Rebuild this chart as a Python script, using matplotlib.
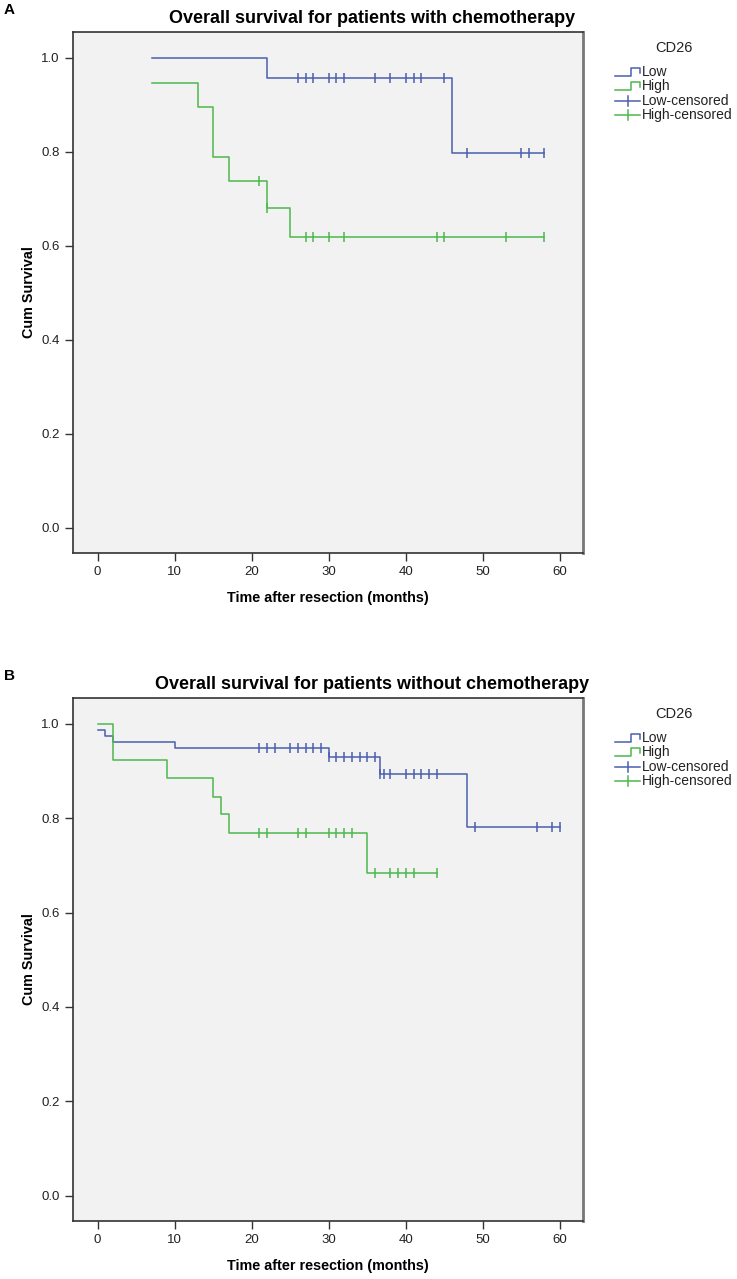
import numpy as np
import matplotlib
matplotlib.use("Agg")
import matplotlib.pyplot as plt
from matplotlib.lines import Line2D

plt.rcParams['font.family'] = ['Liberation Sans', 'DejaVu Sans']

# ---------------- data ----------------
# Panel A: with chemotherapy
a_low_t = [7, 22, 46, 58]
a_low_s = [1.0, 0.957, 0.797, 0.797]
a_low_c = [26, 27, 28, 30, 31, 32, 36, 38, 40, 41, 42, 45, 48, 55, 56, 58]

a_high_t = [7, 13, 15, 17, 22, 25, 58]
a_high_s = [0.947, 0.895, 0.789, 0.737, 0.681, 0.619, 0.619]
a_high_c = [21, 22, 27, 28, 30, 32, 44, 45, 53, 58]

# Panel B: without chemotherapy
b_low_t = [0, 1, 2, 10, 30, 36.7, 48, 60]
b_low_s = [0.987, 0.974, 0.961, 0.948, 0.930, 0.893, 0.781, 0.781]
b_low_c = [21, 22, 23, 25, 26, 27, 28, 29, 30, 31, 32, 33, 34, 35, 36,
           36.7, 37.2, 38, 40, 41, 42, 43, 44, 49, 57, 59, 60]

b_high_t = [0, 2, 9, 15, 16, 17, 35, 44]
b_high_s = [1.0, 0.923, 0.885, 0.846, 0.808, 0.769, 0.684, 0.684]
b_high_c = [21, 22, 26, 27, 30, 31, 32, 33, 36, 38, 39, 40, 41, 44]

titles = ["Overall survival for patients with chemotherapy",
          "Overall survival for patients without chemotherapy"]
panel_letters = ["A", "B"]
legend_title = "CD26"
legend_labels = ["Low", "High", "Low-censored", "High-censored"]
x_ticks = [0, 10, 20, 30, 40, 50, 60]
y_ticks = [0.0, 0.2, 0.4, 0.6, 0.8, 1.0]
xlabel = "Time after resection (months)"
ylabel = "Cum Survival"

BLUE = '#4a5fae'
GREEN = '#4db84d'

W, H = 737, 1279
fig = plt.figure(figsize=(W / 100, H / 100), dpi=100)


def px(x, y):
    return x / W, 1 - y / H


def surv_at(t, times, surv):
    i = np.searchsorted(times, t, side='right') - 1
    i = np.clip(i, 0, len(surv) - 1)
    return np.asarray(surv)[i]


panels = [
    (a_low_t, a_low_s, a_low_c, a_high_t, a_high_s, a_high_c, 32, 553),
    (b_low_t, b_low_s, b_low_c, b_high_t, b_high_s, b_high_c, 698, 1221),
]

for k, (lt, ls, lc, ht, hs, hc, top, bot) in enumerate(panels):
    left, right = 73, 583
    ax = fig.add_axes([left / W, 1 - bot / H, (right - left) / W, (bot - top) / H])
    ax.set_facecolor('#f2f2f2')
    for t, s, c, col in [(lt, ls, lc, BLUE), (ht, hs, hc, GREEN)]:
        ax.step(t, s, where='post', color=col, lw=1.1)
        ax.plot(c, surv_at(np.array(c), np.array(t), s), ls='none', marker='|',
                ms=7, mew=1.1, color=col)
    ax.set_xlim(-3.2, 63.0)
    ax.set_ylim(-0.054, 1.055)
    ax.set_xticks(x_ticks)
    ax.set_yticks(y_ticks)
    ax.set_yticklabels([f"{v:.1f}" for v in y_ticks])
    ax.tick_params(direction='out', length=6, width=1, colors='#333333',
                   labelsize=9.5, labelcolor='#222222')
    for sp in ax.spines.values():
        sp.set_color('#333333')
        sp.set_linewidth(1.2)
    ax.spines['right'].set_color('#777777')
    ax.spines['right'].set_linewidth(2)
    ax.set_xlabel(xlabel, fontsize=10.4, fontweight='bold', labelpad=9)
    ax.set_ylabel(ylabel, fontsize=10.4, fontweight='bold', labelpad=4)

    # title centered on figure
    fig.text(*px(372, top - 5), titles[k], ha='center', va='bottom',
             fontsize=13, fontweight='bold')
    fig.text(*px(4, top - 22), panel_letters[k], ha='left', va='center',
             fontsize=11, fontweight='bold')

    # legend
    ly0 = top + 16
    fig.text(*px(674, ly0), legend_title, ha='center', va='center', fontsize=10.5,
             color='#222222')
    for j, (lab, col) in enumerate(zip(legend_labels, [BLUE, GREEN, BLUE, GREEN])):
        yy = ly0 + 24 + j * 14.3
        x0, x1 = 615, 640
        if j < 2:
            xs = [x0, x0 + 16, x0 + 16, x1, x1]
            ys = [yy + 4, yy + 4, yy - 4, yy - 4, yy + 1]
            fx = [a / W for a in xs]
            fy = [1 - b / H for b in ys]
            fig.add_artist(Line2D(fx, fy, color=col, lw=1.1, transform=fig.transFigure))
        else:
            fig.add_artist(Line2D([x0 / W, x1 / W], [1 - yy / H, 1 - yy / H], color=col,
                                  lw=1.1, transform=fig.transFigure))
            xm = (x0 + x1) / 2
            fig.add_artist(Line2D([xm / W, xm / W], [1 - (yy - 5) / H, 1 - (yy + 5) / H],
                                  color=col, lw=1.1, transform=fig.transFigure))
        fig.text(*px(642, yy), lab, ha='left', va='center', fontsize=10, color='#222222')

fig.savefig('out.png', dpi=100)
